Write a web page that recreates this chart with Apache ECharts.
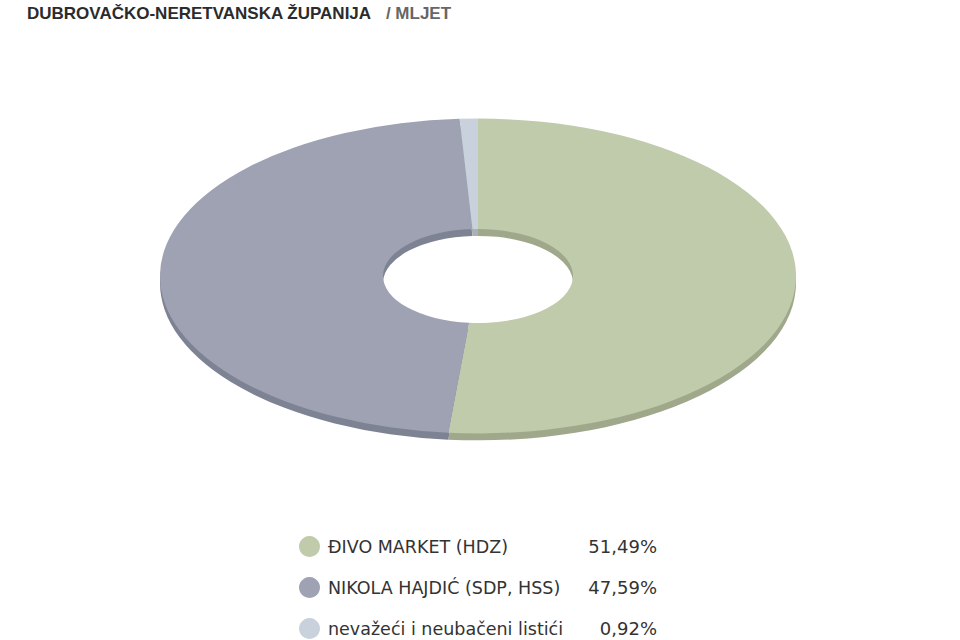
<!DOCTYPE html>
<html>
<head>
<meta charset="utf-8">
<script src="https://cdn.jsdelivr.net/npm/echarts@6/dist/echarts.min.js"></script>
<style>
  html, body { margin: 0; padding: 0; background: #ffffff; }
  #wrap { position: relative; width: 960px; height: 640px; overflow: hidden; }
  #pie { position: absolute; left: 0; top: -74px; width: 960px; height: 700px;
         transform: scaleY(0.495); transform-origin: 50% 350px; }
  #main { position: absolute; left: 0; top: 0; width: 960px; height: 760px; }
</style>
</head>
<body>
<div id="wrap">
  <div id="pie"></div>
  <div id="main"></div>
</div>
<script>
const categories = ['ĐIVO MARKET (HDZ)', 'NIKOLA HAJDIĆ (SDP, HSS)', 'nevažeći i neubačeni listići'];
const values = [51.49, 47.59, 0.92];
const topColors = ['#c0cbab', '#9ea2b3', '#c9d2dc'];
const edgeColors = ['#9fa88b', '#7e8394', '#a8b0ba'];
const titleMain = 'DUBROVAČKO-NERETVANSKA ŽUPANIJA';
const titleSub = '/ MLJET';

function fmt(v) { return v.toFixed(2).replace('.', ',') + '%'; }

const dataTop = categories.map((n, i) => ({ name: n, value: values[i], itemStyle: { color: topColors[i] } }));
const dataEdge = categories.map((n, i) => ({ name: n, value: values[i], itemStyle: { color: edgeColors[i] } }));

const pieChart = echarts.init(document.getElementById('pie'), null, { renderer: 'svg' });
pieChart.setOption({
  animation: false,
  series: [
    {
      type: 'pie', z: 1, center: [478, 364], radius: [95, 318],
      startAngle: 90, clockwise: true, silent: true,
      label: { show: false }, labelLine: { show: false },
      itemStyle: { borderWidth: 0 },
      data: dataEdge
    },
    {
      type: 'pie', z: 2, center: [478, 350], radius: [95, 318],
      startAngle: 90, clockwise: true, silent: true,
      label: { show: false }, labelLine: { show: false },
      itemStyle: { borderWidth: 0 },
      data: dataTop
    }
  ]
});

const main = echarts.init(document.getElementById('main'), null, { renderer: 'svg' });
main.setOption({
  animation: false,
  title: {
    text: '{a|' + titleMain + '}{b|   ' + titleSub + '}',
    left: 22, top: 0,
    textStyle: {
      rich: {
        a: { fontFamily: 'Liberation Sans, Arial, sans-serif', fontWeight: 'bold', fontSize: 17, color: '#2b2b2b' },
        b: { fontFamily: 'Liberation Sans, Arial, sans-serif', fontWeight: 'bold', fontSize: 17, color: '#666666' }
      }
    }
  },
  legend: {
    orient: 'vertical', left: 294, top: 531,
    icon: 'circle', itemWidth: 21, itemHeight: 21, itemGap: 20,
    selectedMode: false,
    data: categories,
    formatter: function (name) {
      const i = categories.indexOf(name);
      return '{n|' + name + '}{v|' + fmt(values[i]) + '}';
    },
    textStyle: {
      padding: [0, 0, 0, 3],
      rich: {
        n: { fontFamily: 'DejaVu Sans, Verdana, sans-serif', fontSize: 17.5, color: '#333', width: 254, lineHeight: 21 },
        v: { fontFamily: 'DejaVu Sans, Verdana, sans-serif', fontSize: 18, color: '#333', width: 75, align: 'right', lineHeight: 21 }
      }
    }
  },
  series: [{
    type: 'pie', center: [-2000, -2000], radius: 1, silent: true,
    label: { show: false }, labelLine: { show: false },
    data: dataTop
  }]
});
</script>
</body>
</html>
